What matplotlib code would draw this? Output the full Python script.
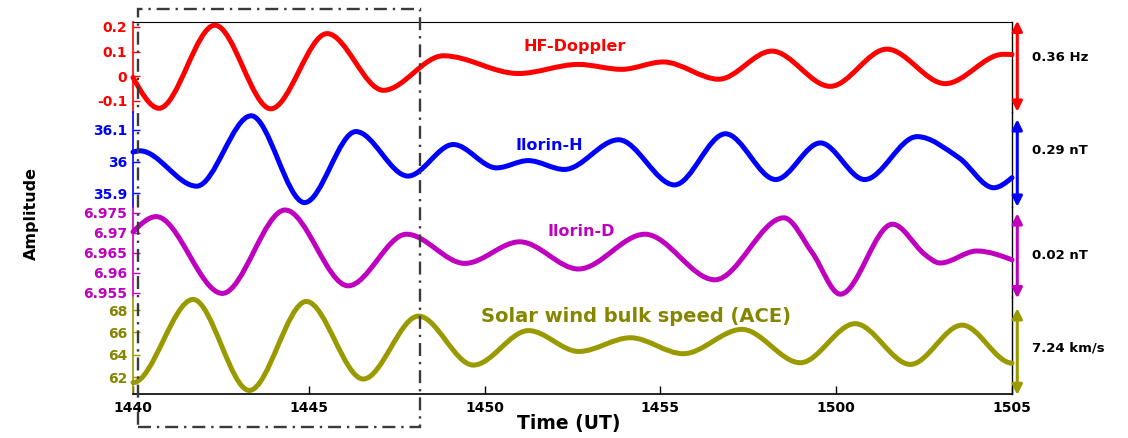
import numpy as np
import matplotlib.pyplot as plt
from matplotlib.path import Path
from matplotlib.patches import PathPatch, Rectangle
from matplotlib.transforms import blended_transform_factory

plt.rcParams['font.family'] = ['DejaVu Sans']
plt.rcParams['font.weight'] = 'bold'

W, H = 1128, 438

# minutes after 14:40 UT
time_ticks = [0, 5, 10, 15, 20, 25]
time_labels = ['1440', '1445', '1450', '1455', '1500', '1505']

# HF-Doppler (Hz)
hf_t = [0.0, 0.74, 2.33, 3.92, 5.52, 7.12, 8.83, 10.96, 12.66, 13.90, 15.08,
        16.66, 18.17, 19.83, 21.44, 23.10, 24.75, 25.0]
hf_v = [-0.005, -0.130, 0.207, -0.132, 0.173, -0.057, 0.083, 0.011, 0.048, 0.028, 0.058,
        -0.012, 0.102, -0.041, 0.110, -0.030, 0.089, 0.088]

# Ilorin H component (nT)
ilh_t = [0.0, 0.20, 1.81, 3.36, 4.88, 6.34, 7.82, 9.11, 10.34, 11.24, 12.27,
         13.81, 15.40, 16.85, 18.28, 19.55, 20.81, 22.30, 23.49, 24.48, 25.0]
ilh_v = [36.030, 36.034, 35.922, 36.145, 35.870, 36.095, 35.954, 36.054, 35.980, 36.003, 35.975,
         36.069, 35.926, 36.088, 35.943, 36.059, 35.943, 36.079, 36.012, 35.917, 35.949]

# Ilorin D component
ild_t = [0.0, 0.66, 2.54, 4.33, 6.12, 7.78, 9.44, 11.00, 12.67, 14.56, 16.55,
         18.51, 19.31, 20.12, 21.60, 22.50, 22.96, 24.00, 25.0]
ild_v = [6.9703, 6.9741, 6.9549, 6.97575, 6.9568, 6.9697, 6.9624, 6.9678, 6.9610, 6.9697, 6.9583,
         6.9738, 6.9652, 6.9547, 6.9722, 6.9648, 6.9625, 6.9655, 6.9633]

# ACE solar wind bulk speed (km/s, offset)
sw_t = [0.0, 1.71, 3.31, 4.93, 6.55, 8.12, 9.68, 11.25, 12.68, 14.15, 15.65,
        17.32, 18.98, 20.54, 22.11, 23.58, 25.0]
sw_v = [61.50, 68.95, 60.80, 68.77, 61.82, 67.46, 63.07, 66.16, 64.29, 65.52, 64.09,
        66.27, 63.28, 66.78, 63.13, 66.65, 63.25]

hf_ticks = [-0.1, 0, 0.1, 0.2]
hf_ticklabels = ['-0.1', '0', '0.1', '0.2']
ilh_ticks = [35.9, 36.0, 36.1]
ilh_ticklabels = ['35.9', '36', '36.1']
ild_ticks = [6.955, 6.96, 6.965, 6.97, 6.975]
ild_ticklabels = ['6.955', '6.96', '6.965', '6.97', '6.975']
sw_ticks = [62, 64, 66, 68]
sw_ticklabels = ['62', '64', '66', '68']

amp_labels = ['0.36 Hz', '0.29 nT', '0.02 nT', '7.24 km/s']
names = ['HF-Doppler', 'Ilorin-H', 'Ilorin-D', 'Solar wind bulk speed (ACE)']


def smooth_path(t, v, edge=(1.5, 1.5)):
    """Cubic Hermite path through the points, flat at local extrema."""
    t = np.asarray(t, float)
    v = np.asarray(v, float)
    n = len(t)
    m = np.zeros(n)
    for i in range(1, n - 1):
        if (v[i] - v[i - 1]) * (v[i + 1] - v[i]) > 0:
            m[i] = (v[i + 1] - v[i - 1]) / (t[i + 1] - t[i - 1])
    s0 = (v[1] - v[0]) / (t[1] - t[0])
    s1 = (v[-1] - v[-2]) / (t[-1] - t[-2])
    m[0] = edge[0] * s0 - 0.5 * m[1] * (edge[0] > 0)
    m[-1] = edge[1] * s1 - 0.5 * m[-2] * (edge[1] > 0)
    verts = [(t[0], v[0])]
    codes = [Path.MOVETO]
    for i in range(n - 1):
        d = (t[i + 1] - t[i]) / 3.0
        verts += [(t[i] + d, v[i] + m[i] * d),
                  (t[i + 1] - d, v[i + 1] - m[i + 1] * d),
                  (t[i + 1], v[i + 1])]
        codes += [Path.CURVE4] * 3
    return Path(verts, codes)


bands = [
    dict(t=hf_t, v=hf_v, color='#ff0000', tcolor='#ff0000', ylim=(-0.145, 0.22),
         ticks=hf_ticks, labels=hf_ticklabels, px=(22, 112), edge=(1.5, 1.5),
         arrow=(0.003, 1.014), amp_y=0.61),
    dict(t=ilh_t, v=ilh_v, color='#0000ff', tcolor='#0000ff', ylim=(35.856, 36.157),
         ticks=ilh_ticks, labels=ilh_ticklabels, px=(112, 207), edge=(1.5, 1.5),
         arrow=(0.003, 0.923), amp_y=0.60),
    dict(t=ild_t, v=ild_v, color='#bf00bf', tcolor='#bf00bf', ylim=(6.954, 6.9765),
         ticks=ild_ticks, labels=ild_ticklabels, px=(207, 297), edge=(1.5, 1.5),
         arrow=(-0.014, 0.93), amp_y=0.456),
    dict(t=sw_t, v=sw_v, color='#999900', tcolor='#858500', ylim=(60.48, 69.17),
         ticks=sw_ticks, labels=sw_ticklabels, px=(297, 394), edge=(0.0, 0.0),
         arrow=(-0.01, 0.884), amp_y=0.474),
]

fig = plt.figure(figsize=(W / 100, H / 100), dpi=100)
x0, x1 = 133, 1012

axes = []
for k, b in enumerate(bands):
    top, bot = b['px']
    ax = fig.add_axes([x0 / W, 1 - bot / H, (x1 - x0) / W, (bot - top) / H])
    ax.set_xlim(0, 25)
    ax.set_ylim(*b['ylim'])
    ax.add_patch(PathPatch(smooth_path(b['t'], b['v'], b['edge']), fill=False,
                           edgecolor=b['color'], lw=3.6, capstyle='round',
                           joinstyle='round', clip_on=False, zorder=3))

    for side in ['top', 'bottom']:
        ax.spines[side].set_visible(False)
    ax.spines['left'].set_color(b['color'])
    ax.spines['left'].set_linewidth(1.2)
    ax.spines['right'].set_color('black')
    ax.spines['right'].set_linewidth(1.0)
    if k == 0:
        ax.spines['top'].set_visible(True)
        ax.spines['top'].set_color('black')
    if k == len(bands) - 1:
        ax.spines['bottom'].set_visible(True)
        ax.spines['bottom'].set_color('black')
        ax.spines['bottom'].set_linewidth(1.2)
        ax.set_xticks(time_ticks)
        ax.set_xticklabels(time_labels, fontsize=10, fontweight='bold')
        ax.tick_params(axis='x', direction='in', length=6, width=1, pad=5)
    else:
        ax.set_xticks([])

    ax.set_yticks(b['ticks'])
    ax.set_yticklabels(b['labels'], fontsize=10, fontweight='bold')
    ax.tick_params(axis='y', direction='in', length=5, width=1,
                   color=b['color'], labelcolor=b['tcolor'], pad=4)
    ax.set_facecolor('none')

    # amplitude range marker on the right
    ax.annotate('', xy=(1.006, b['arrow'][1]), xytext=(1.006, b['arrow'][0]),
                xycoords='axes fraction', annotation_clip=False,
                arrowprops=dict(arrowstyle='<|-|>', color=b['color'], lw=2.2,
                                mutation_scale=15, shrinkA=0, shrinkB=0))
    ax.text(1.0227, b['amp_y'], amp_labels[k], transform=ax.transAxes,
            fontsize=9.5, fontweight='bold', color='black', va='center', ha='left')
    axes.append(ax)

# series names
fig.text(575 / W, 1 - 46 / H, names[0], color='#ff0000', fontsize=11.5,
         fontweight='bold', ha='center', va='center')
fig.text(549 / W, 1 - 146 / H, names[1], color='#0000ff', fontsize=11.5,
         fontweight='bold', ha='center', va='center')
fig.text(581 / W, 1 - 232 / H, names[2], color='#bf00bf', fontsize=11.5,
         fontweight='bold', ha='center', va='center')
fig.text(636 / W, 1 - 316 / H, names[3], color='#858500', fontsize=14,
         fontweight='bold', ha='center', va='center')

fig.text(31 / W, 1 - 214 / H, 'Amplitude', rotation=90, fontsize=11.5,
         fontweight='bold', ha='center', va='center')
fig.text(569 / W, 1 - 424 / H, 'Time (UT)', fontsize=13.5,
         fontweight='bold', ha='center', va='center')

# box around the first few cycles
trans = blended_transform_factory(axes[-1].transData, fig.transFigure)
box = Rectangle((0.13, 1 - 427 / H), 8.15 - 0.13, (427 - 9) / H, transform=trans,
                fill=False, edgecolor='#3a3a3a', lw=1.7,
                linestyle=(0, (5.5, 2.5, 1.0, 2.5)), zorder=5)
fig.add_artist(box)

fig.savefig('out.png', dpi=100)
